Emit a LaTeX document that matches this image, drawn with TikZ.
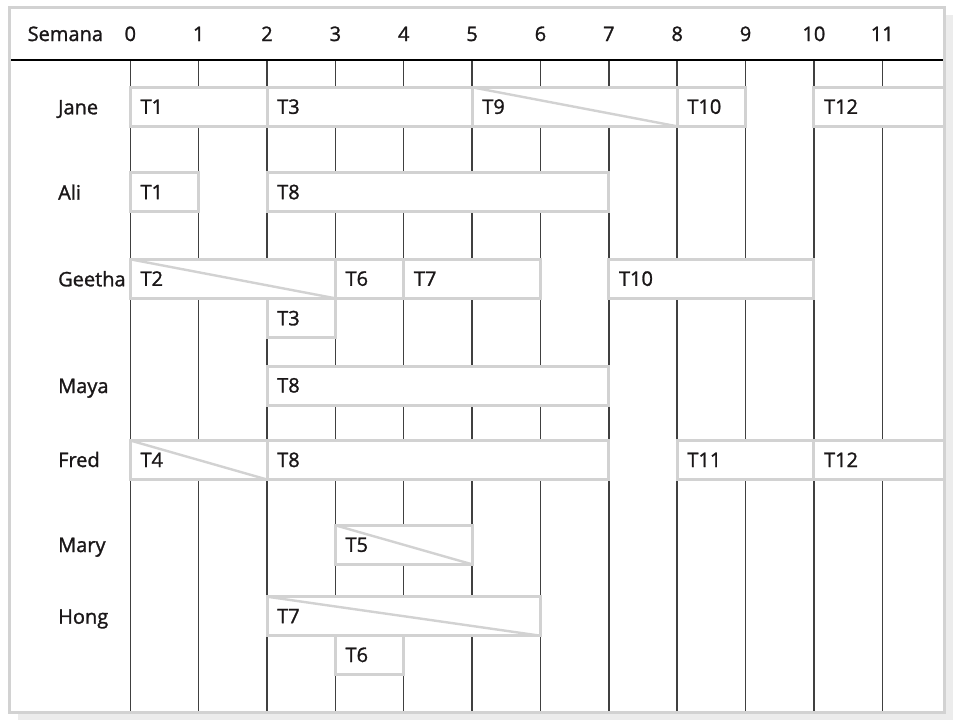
\documentclass[tikz,border=0pt]{standalone}
\usepackage{fontspec}
\setmainfont{Open Sans}
\newfontfamily\chartfont[FakeBold=1.3]{Open Sans}
\usepackage{tikz}
\definecolor{boxgray}{HTML}{D2D2D2}
\definecolor{shadowgray}{HTML}{ECECEC}
\definecolor{inkgray}{HTML}{1A1718}
\newcommand{\weekwidth}{68.36pt}
\newcommand{\maketask}[4]{
	\draw[taskbox] (#1,#3) rectangle (#2,#3+39);
	\node[tasklabel] at (#1,#3+26.5) {#4};
}
\newcommand{\makesplit}[4]{
	\maketask{#1}{#2}{#3}{#4}
	\draw[tasksplit] (#1,#3) -- (#2,#3+39);
}
\tikzset{
	taskbox/.style={fill=white, draw=boxgray, line width=3pt},
	tasksplit/.style={draw=boxgray, line width=2.4pt},
	tasklabel/.style={anchor=base west, inner sep=0pt, xshift=10pt, text=inkgray},
	namelabel/.style={anchor=base west, inner sep=0pt, text=inkgray},
	weeklabel/.style={anchor=base, inner sep=0pt, text=inkgray},
	weekline/.style={draw=black!75, line width=1.4pt}
}

\begin{document}
\begin{tikzpicture}[x=\weekwidth,y=-1pt,font=\chartfont\fontsize{20}{24}\selectfont]
	\useasboundingbox (-1.906,0) rectangle (12.108,723);

	% frame and shadow
	\fill[shadowgray] (-1.643,15) rectangle (12.035,720);
	\fill[white] (-1.760,7.5) rectangle (11.910,712);

	% week grid
	\foreach \w in {0,...,11}{
		\draw[weekline] (\w,60) -- (\w,711);
		\node[weeklabel] (wk\w) at (\w,41) {\w};
	}
	\draw[black, line width=1.4pt] (-1.760,60) -- (11.910,60);
	\node[namelabel] (semana) at (-1.504,41) {Semana};

	% people
	\node[namelabel] (jane) at (-1.058,114.3) {Jane};
	\node[namelabel] (ali) at (-1.058,199.7) {Ali};
	\node[namelabel] (geetha) at (-1.058,286.3) {Geetha};
	\node[namelabel] (maya) at (-1.058,393) {Maya};
	\node[namelabel] (fred) at (-1.058,467) {Fred};
	\node[namelabel] (mary) at (-1.058,552) {Mary};
	\node[namelabel] (hong) at (-1.058,623.7) {Hong};

	% Jane
	\maketask{0}{2}{87.3}{T1}
	\maketask{2}{5}{87.3}{T3}
	\makesplit{5}{8}{87.3}{T9}
	\maketask{8}{9}{87.3}{T10}
	\maketask{10}{11.91}{87.3}{T12}
	% Ali
	\maketask{0}{1}{172.7}{T1}
	\maketask{2}{7}{172.7}{T8}
	% Geetha
	\makesplit{0}{3}{259.3}{T2}
	\maketask{3}{4}{259.3}{T6}
	\maketask{4}{6}{259.3}{T7}
	\maketask{7}{10}{259.3}{T10}
	\maketask{2}{3}{298.8}{T3}
	% Maya
	\maketask{2}{7}{366}{T8}
	% Fred
	\makesplit{0}{2}{440.5}{T4}
	\maketask{2}{7}{440.5}{T8}
	\maketask{8}{10}{440.5}{T11}
	\maketask{10}{11.91}{440.5}{T12}
	% Mary
	\makesplit{3}{5}{525.3}{T5}
	% Hong
	\makesplit{2}{6}{596.7}{T7}
	\maketask{3}{4}{635.5}{T6}

	\draw[boxgray, line width=3pt] (-1.760,7.5) rectangle (11.910,712);
\end{tikzpicture}
\end{document}
